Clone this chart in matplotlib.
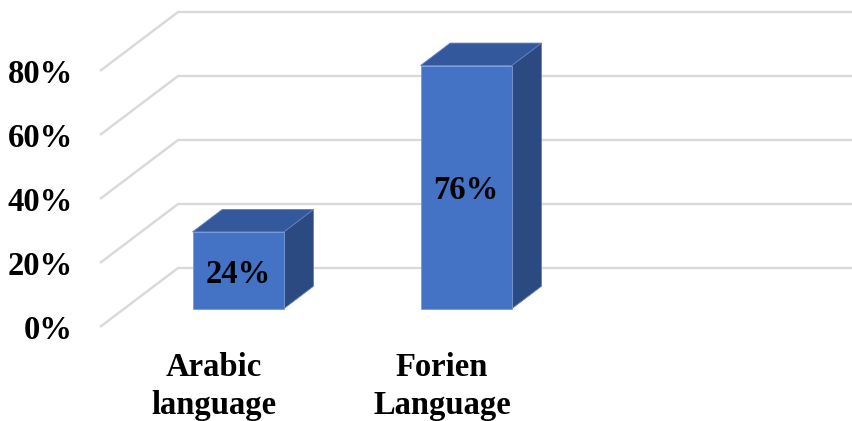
import matplotlib
matplotlib.use('Agg')
import matplotlib.pyplot as plt
from matplotlib.patches import Polygon

# data
categories = ['Arabic\nlanguage', 'Forien\nLanguage']
values = [24, 76]
tick_values = [0, 20, 40, 60, 80]

# style
FRONT = '#4472C4'
TOP = '#34589C'
SIDE = '#2C4A82'
GRID = '#D9D9D9'
FONT = 'Liberation Serif'
FS = 23.5

# oblique projection: depth 0 -> front plane, depth 1 -> back wall
DX = 78 / 228.0   # in category units
DY = 59 / 3.2     # in percent units
BAR_W = 0.4
D0, D1 = 0.31, 0.69


def proj(x, y, d):
    return (x + d * DX, y + d * DY)


fig = plt.figure(figsize=(8.53, 4.21), dpi=100)
ax = fig.add_axes([0, 0, 1, 1])
ax.set_xlim(-100 / 228.0, 753 / 228.0)
ax.set_ylim(-94 / 3.2, 327 / 3.2)
ax.axis('off')

x_end = ax.get_xlim()[1]

# gridlines: side wall diagonal + back wall horizontal
for v in tick_values:
    x0, y0 = proj(0, v, 0)
    x1, y1 = proj(0, v, 1)
    ax.plot([x0, x1, x_end], [y0, y1, y1], color=GRID, lw=1.7,
            solid_capstyle='butt', zorder=1)
    ax.text(-27 / 228.0, v - 1.2, f'{v}%', ha='right', va='center',
            fontsize=FS, fontweight='bold', family=FONT)

# bars
for i, (cat, val) in enumerate(zip(categories, values)):
    xl = i + 0.5 - BAR_W / 2
    xr = i + 0.5 + BAR_W / 2
    front = [proj(xl, 0, D0), proj(xr, 0, D0), proj(xr, val, D0), proj(xl, val, D0)]
    top = [proj(xl, val, D0), proj(xr, val, D0), proj(xr, val, D1), proj(xl, val, D1)]
    side = [proj(xr, 0, D0), proj(xr, 0, D1), proj(xr, val, D1), proj(xr, val, D0)]
    ax.add_patch(Polygon(side, closed=True, fc=SIDE, ec='#5B7FBF', lw=0.6, zorder=3))
    ax.add_patch(Polygon(top, closed=True, fc=TOP, ec='#5B7FBF', lw=0.6, zorder=3))
    ax.add_patch(Polygon(front, closed=True, fc=FRONT, ec='#7A9AD6', lw=0.6, zorder=4))
    cx, cy = proj(i + 0.5, val / 2.0, D0)
    ax.text(cx, cy - 1.2, f'{val}%', ha='center', va='center', fontsize=FS,
            fontweight='bold', family=FONT, zorder=5)
    ax.text(i + 0.5, -7.8, cat, ha='center', va='top', fontsize=FS,
            fontweight='bold', family=FONT, linespacing=1.28)

fig.savefig('out.png', dpi=100, facecolor='white')
